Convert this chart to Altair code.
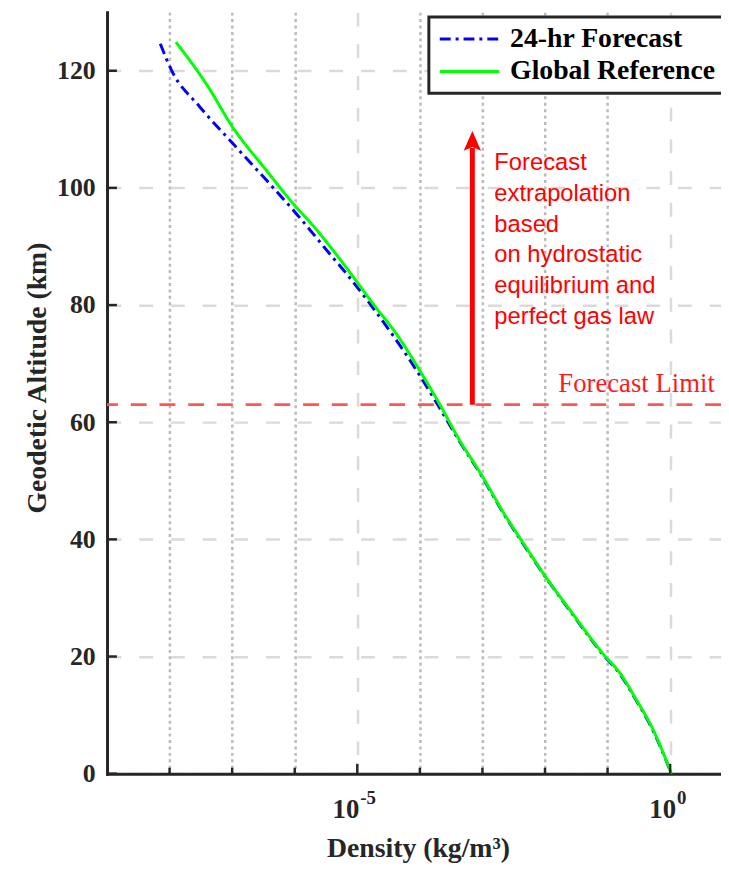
import altair as alt
import pandas as pd

# ---------------- data ----------------
series_names = ["24-hr Forecast", "Global Reference"]

fc_alt = [0, 7.4, 13, 17, 20.3, 27.7, 33.9, 38.9, 44, 51.3, 57, 62.9, 68.8,
          80.1, 85.2, 89.1, 95.3, 101.5, 107.7, 113.9, 120.1, 124.6]
fc_dens = [1.05, 0.53, 0.27, 0.158, 0.085, 0.0255, 0.0097, 0.0047, 0.0023,
           9.1e-4, 4.15e-4, 1.95e-4, 8.9e-5, 1.62e-5, 6.9e-6, 3.4e-6,
           1.12e-6, 3.4e-7, 1.0e-7, 3.0e-8, 1.07e-8, 7.1e-9]

ref_alt = [0, 7.4, 13, 17, 20.3, 27.7, 33.9, 38.9, 44, 51.3, 57, 63.2, 68.8,
           75, 80.1, 84.6, 89.1, 94.2, 96.4, 103.2, 110.5, 117.5, 124.9]
ref_dens = [1.05, 0.54, 0.275, 0.162, 0.087, 0.026, 0.0098, 0.0048, 0.00234,
            9.3e-4, 4.27e-4, 2.04e-4, 1.0e-4, 4.27e-5, 1.82e-5, 8.9e-6,
            4.27e-6, 1.74e-6, 1.12e-6, 3.4e-7, 1.0e-7, 4.0e-8, 1.26e-8]

x_decades = [1e-8, 1e-7, 1e-6, 1e-5, 1e-4, 1e-3, 1e-2, 1e-1, 1e0]
x_major = [1e-5, 1e0]
x_label_exps = ["-5", "0"]
y_ticks = [0, 20, 40, 60, 80, 100, 120]

limit_alt = [63]
arrow_x = [6.9e-4]
arrow_top = [106.8]
arrow_tip = [107.6]
note_x = [1.55e-3]
note_y = [103.0]
note_lines = ["Forecast", "extrapolation", "based", "on hydrostatic",
              "equilibrium and", "perfect gas law"]
limit_label = ["Forecast Limit"]
limit_label_x = [0.0163]
limit_label_y = [65.1]

# ---------------- layout ----------------
W, H = 620, 769
SERIF = "Liberation Serif"
SANS = "Liberation Sans"
AX = "#262626"

xscale = alt.Scale(type="log", domain=[1e-9, 6.5], nice=False)
yscale = alt.Scale(domain=[0, 130], nice=False)

major_test = "(datum.value > 5e-6 && datum.value < 2e-5) || (datum.value > 0.5 && datum.value < 2)"

x_axis = alt.Axis(
    values=x_decades, labels=False, ticks=False, tickSize=0,
    domainColor=AX, domainWidth=3, domainCap="square",
    grid=True, gridWidth=2.5,
    gridColor={"condition": {"test": major_test, "value": "#dadada"}, "value": "#bababa"},
    gridDash={"condition": {"test": major_test, "value": [14, 18]}, "value": [3, 3.5]},
    title="Density (kg/m³)", titleFont=SERIF, titleFontSize=28, titleFontWeight="bold",
    titleColor=AX, titleX=314, titleY=84, titleAlign="center", titleBaseline="alphabetic",
)
y_axis = alt.Axis(
    values=y_ticks, ticks=False, tickSize=0,
    labelFont=SERIF, labelFontSize=26, labelFontWeight="bold", labelColor=AX, labelPadding=12,
    domainColor=AX, domainWidth=3, domainCap="square",
    grid=True, gridWidth=2.5, gridColor="#dadada", gridDash=[14, 18],
    title="Geodetic Altitude (km)", titleFont=SERIF, titleFontSize=28, titleFontWeight="bold",
    titleColor=AX, titleX=-62, titleY=369, titleAngle=270, titleAlign="center",
    titleBaseline="alphabetic",
)

curves = pd.concat([
    pd.DataFrame({"series": series_names[0], "alt": fc_alt, "dens": fc_dens}),
    pd.DataFrame({"series": series_names[1], "alt": ref_alt, "dens": ref_dens}),
])

color_scale = alt.Scale(domain=series_names, range=["#0000ff", "#00ff00"])
dash_scale = alt.Scale(domain=series_names, range=[[11, 5, 3, 5], [1, 0]])
# legend symbol: a 60px horizontal stroke drawn from a compact symbol box
legend = alt.Legend(
    title=None, orient="none", legendX=325, legendY=5,
    symbolType="M-3,0L3,0", symbolSize=400, symbolStrokeWidth=3, symbolOffset=19,
    labelFont=SERIF, labelFontWeight="bold", labelFontSize=28, labelColor="black",
    labelOffset=27, labelLimit=400, rowPadding=5, padding=8,
    strokeColor=AX, fillColor="white",
)

base = alt.Chart(curves).encode(
    x=alt.X("dens:Q", scale=xscale, axis=x_axis),
    y=alt.Y("alt:Q", scale=yscale, axis=y_axis),
    color=alt.Color("series:N", scale=color_scale, legend=legend),
    strokeDash=alt.StrokeDash("series:N", scale=dash_scale, legend=legend),
)
fc_line = base.transform_filter(alt.datum.series == series_names[0]).mark_line(
    strokeWidth=3, interpolate="monotone")
ref_line = base.transform_filter(alt.datum.series == series_names[1]).mark_line(
    strokeWidth=3, interpolate="monotone")

xs = alt.X("x:Q", scale=xscale)
ys = alt.Y("y:Q", scale=yscale)

limit_rule = alt.Chart(pd.DataFrame({"y": limit_alt})).mark_rule(
    color="#ff5555", strokeWidth=3, strokeDash=[16, 13]).encode(y=ys)

arrow_df = pd.DataFrame({"x": arrow_x, "y": limit_alt, "y2": arrow_top, "tip": arrow_tip})
arrow_shaft = alt.Chart(arrow_df).mark_rule(color="#ff0000", strokeWidth=5).encode(
    x=xs, y=ys, y2="y2:Q")
arrow_head = alt.Chart(arrow_df).mark_point(
    shape="M0,-1L0.7,0.6L0,0.3L-0.7,0.6Z", size=625, filled=True,
    color="#ff0000", opacity=1, strokeWidth=0).encode(
    x=xs, y=alt.Y("tip:Q", scale=yscale))

note = alt.Chart(pd.DataFrame({"x": note_x, "y": note_y})).mark_text(
    text=note_lines, align="left", baseline="alphabetic", font=SANS, fontSize=24,
    lineHeight=31, color="#ff0000").encode(x=xs, y=ys)

limit_text = alt.Chart(pd.DataFrame({"x": limit_label_x, "y": limit_label_y, "t": limit_label})).mark_text(
    align="left", baseline="alphabetic", font=SERIF, fontSize=27, color="#ff1a1a").encode(
    x=xs, y=ys, text="t:N")

# inward ticks
minor_vals = [v for v in x_decades if v not in x_major]
x_minor_ticks = alt.Chart(pd.DataFrame({"x": minor_vals})).mark_rule(
    color=AX, strokeWidth=2.5).encode(x=xs, y=alt.value(H), y2=alt.value(H - 6))
x_major_ticks = alt.Chart(pd.DataFrame({"x": x_major})).mark_rule(
    color=AX, strokeWidth=2.5).encode(x=xs, y=alt.value(H), y2=alt.value(H - 10))
y_tick_marks = alt.Chart(pd.DataFrame({"y": y_ticks})).mark_rule(
    color=AX, strokeWidth=2.5).encode(y=ys, x=alt.value(0), x2=alt.value(10))

# x tick labels 10^n
label_dx = [2, 6]
x_labels = []
for v, e, dx in zip(x_major, x_label_exps, label_dx):
    d = pd.DataFrame({"x": [v], "b": ["10"], "e": [e]})
    x_labels.append(alt.Chart(d).mark_text(
        align="right", baseline="alphabetic", font=SERIF, fontSize=27, fontWeight="bold",
        color=AX, dx=dx).encode(x=xs, y=alt.value(H + 45), text="b:N"))
    x_labels.append(alt.Chart(d).mark_text(
        align="left", baseline="alphabetic", font=SERIF, fontSize=19, fontWeight="bold",
        color=AX, dx=dx + 1).encode(x=xs, y=alt.value(H + 31), text="e:N"))

chart = alt.layer(
    limit_rule, fc_line, ref_line, arrow_shaft, arrow_head, note, limit_text,
    x_minor_ticks, x_major_ticks, y_tick_marks, *x_labels
).properties(
    width=W, height=H,
    autosize=alt.AutoSizeParams(type="none"),
    padding={"left": 100, "top": 0, "right": 0, "bottom": 86},
).configure_view(strokeWidth=0).configure_legend(strokeWidth=3)

chart.save("out.html", embed_options={"renderer": "svg", "actions": False})
